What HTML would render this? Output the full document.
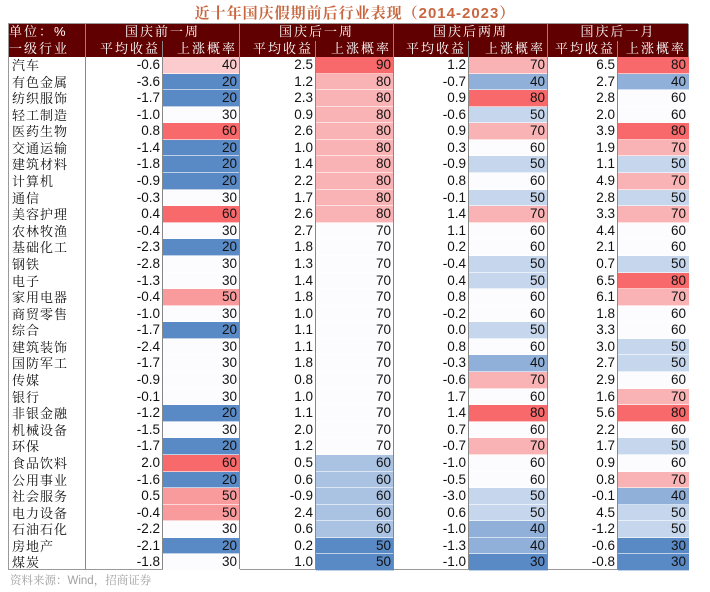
<!DOCTYPE html>
<html><head><meta charset="utf-8">
<style>
body{margin:0;width:710px;height:592px;background:#fff;position:relative;overflow:hidden;font-family:"Liberation Sans","Noto Sans CJK SC",sans-serif}
#title{position:absolute;left:0;width:710px;top:2px;text-align:center;font-size:15px;color:#C8673F;font-family:"Liberation Sans","Noto Serif CJK SC",serif;font-weight:bold;letter-spacing:1px}
#tbl{position:absolute;left:8px;top:23px;width:680px;height:547px;border:1px solid #999;box-sizing:border-box}
.c{position:absolute;box-sizing:border-box;font-size:13.5px;color:#111;line-height:16.6px;height:16.6px}
.h{background:#600000;color:#fff;font-family:"Liberation Sans","Noto Serif CJK SC",serif;font-size:13px;letter-spacing:2px;line-height:16px;height:16.5px;border-right:1px solid #888}
.nm{font-family:"Noto Serif CJK SC",serif;font-size:13px;padding-left:3px;letter-spacing:1px}
.num{text-align:right;padding-right:3px}
.vl{position:absolute;top:0;bottom:0;width:1px;background:#888}
#foot{position:absolute;left:10px;top:572px;font-size:11.5px;color:#a0a0a0;font-family:"Liberation Sans","Noto Serif CJK SC",serif}
</style></head><body>
<div id="title">近十年国庆假期前后行业表现（2014-2023）</div>
<div id="tbl"></div>
<div id="foot">资料来源：Wind，招商证券</div>
<script>
const industries=["汽车","有色金属","纺织服饰","轻工制造","医药生物","交通运输","建筑材料","计算机","通信","美容护理","农林牧渔","基础化工","钢铁","电子","家用电器","商贸零售","综合","建筑装饰","国防军工","传媒","银行","非银金融","机械设备","环保","食品饮料","公用事业","社会服务","电力设备","石油石化","房地产","煤炭"];
const ret1=[-0.6,-3.6,-1.7,-1.0,0.8,-1.4,-1.8,-0.9,-0.3,0.4,-0.4,-2.3,-2.8,-1.3,-0.4,-1.0,-1.7,-2.4,-1.7,-0.9,-0.1,-1.2,-1.5,-1.7,2.0,-1.6,0.5,-0.4,-2.2,-2.1,-1.8];
const prob1=[40,20,20,30,60,20,20,20,30,60,30,20,30,30,50,30,20,30,30,30,30,20,30,20,60,20,50,50,30,20,30];
const ret2=[2.5,1.2,2.3,0.9,2.6,1.0,1.4,2.2,1.7,2.6,2.7,1.8,1.3,1.4,1.8,1.0,1.1,1.1,1.8,0.8,1.0,1.1,2.0,1.2,0.5,0.6,-0.9,2.4,0.6,0.2,1.0];
const prob2=[90,80,80,80,80,80,80,80,80,80,70,70,70,70,70,70,70,70,70,70,70,70,70,70,60,60,60,60,60,50,50];
const ret3=[1.2,-0.7,0.9,-0.6,0.9,0.3,-0.9,0.8,-0.1,1.4,1.1,0.2,-0.4,0.4,0.8,-0.2,0.0,0.8,-0.3,-0.6,1.7,1.4,0.7,-0.7,-1.0,-0.5,-3.0,0.6,-1.0,-1.3,-1.0];
const prob3=[70,40,80,50,70,60,50,60,50,70,60,60,50,50,60,60,50,60,40,70,60,80,60,70,60,60,50,50,40,40,30];
const ret4=[6.5,2.7,2.8,2.0,3.9,1.9,1.1,4.9,2.8,3.3,4.4,2.1,0.7,6.5,6.1,1.8,3.3,3.0,2.7,2.9,1.6,5.6,2.2,1.7,0.9,0.8,-0.1,4.5,-1.2,-0.6,-0.8];
const prob4=[80,40,60,60,80,70,50,70,50,70,60,60,50,80,70,60,60,50,50,60,70,80,60,50,60,70,40,50,50,30,30];
const groups=["国庆前一周","国庆后一周","国庆后两周","国庆后一月"];

const tbl=document.getElementById('tbl');
const X=[0,77,154,231,307,385,460,539,609,680];
const H0=0,H1=16.5,D0=33,RH=(547-33)/31;
function mk(cls,x,y,w,h,txt,name){const d=document.createElement('div');d.className='c '+cls;d.style.left=x+'px';d.style.top=y+'px';d.style.width=w+'px';d.style.height=h+'px';d.textContent=txt;


tbl.appendChild(d);return d;}
mk('h',X[0],H0,X[1],H1,'单位：%','unit-label');
mk('h',X[0],H1,X[1],H1,'一级行业','industry-header');
groups.forEach((g,i)=>{const d=mk('h',X[1+2*i],H0,X[3+2*i]-X[1+2*i],H1,g,'period-header');d.style.textAlign='center';
 const a=mk('h',X[1+2*i],H1,X[2+2*i]-X[1+2*i],H1,'平均收益','avg-return-header');a.style.textAlign='right';a.style.paddingRight='2px';
 const b=mk('h',X[2+2*i],H1,X[3+2*i]-X[2+2*i],H1,'上涨概率','up-probability-header');b.style.textAlign='right';b.style.paddingRight='2px';});
function median(a){const s=[...a].sort((x,y)=>x-y);const n=s.length;return n%2?s[(n-1)/2]:(s[n/2-1]+s[n/2])/2;}
function mix(c1,c2,t){return 'rgb('+c1.map((v,i)=>Math.round(v+(c2[i]-v)*t)).join(',')+')';}
const BLUE=[90,138,198],WHITE=[252,252,255],RED=[248,105,107];
function colorFor(v,arr){const mn=Math.min(...arr),mx=Math.max(...arr),md=median(arr);
 if(v>=md){return mx===md?mix(WHITE,WHITE,0):mix(WHITE,RED,(v-md)/(mx-md));}
 return mix(WHITE,BLUE,(md-v)/(md-mn));}
const rets=[ret1,ret2,ret3,ret4],probs=[prob1,prob2,prob3,prob4];
industries.forEach((n,r)=>{const y=D0+r*RH;
 mk('nm',X[0],y,X[1],RH,n,'industry-name');
 for(let g=0;g<4;g++){
  mk('num',X[1+2*g],y,X[2+2*g]-X[1+2*g],RH,rets[g][r].toFixed(1),'avg-return-cell');
  const p=mk('num',X[2+2*g],y,X[3+2*g]-X[2+2*g],RH,String(probs[g][r]),'up-probability-cell');
  p.style.background=colorFor(probs[g][r],probs[g]);
  p.style.borderBottom='1px solid rgba(255,255,255,0.6)';
 }});
[1,2,3,4,5,6,7,8].forEach(i=>{const l=document.createElement('div');l.className='vl';l.style.left=(X[i]-1)+'px';l.style.top=D0+'px';


tbl.appendChild(l);});
</script>
</body></html>
